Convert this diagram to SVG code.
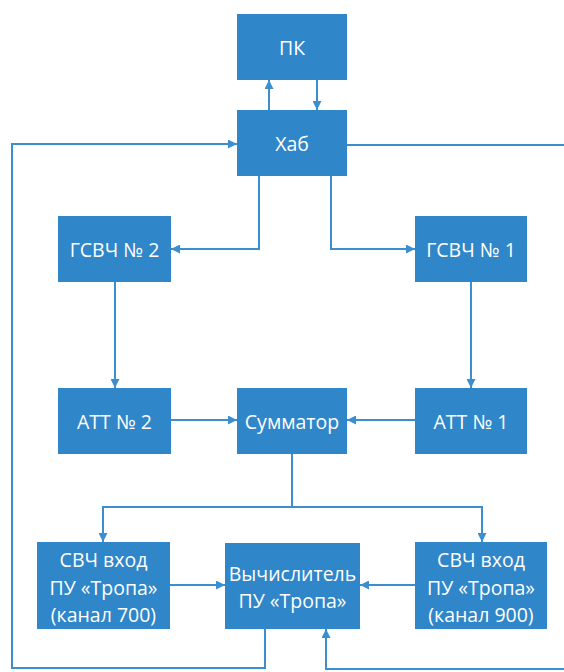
<svg xmlns="http://www.w3.org/2000/svg" width="564" height="672" viewBox="0 0 564 672">
<style>
.box{fill:#2F86C9;}
.lbl{fill:#ffffff;font-family:"Open Sans","Liberation Sans",sans-serif;font-size:19.5px;text-anchor:middle;dominant-baseline:central;}
.ln{fill:none;stroke:#3B8ED0;stroke-width:2;marker-end:url(#ah);}
.ln2{fill:none;stroke:#3B8ED0;stroke-width:2;}
</style>
<defs>
<marker id="ah" viewBox="0 0 10 10" refX="10" refY="5" markerWidth="9" markerHeight="9" markerUnits="userSpaceOnUse" orient="auto">
<path d="M0,0 L10,5 L0,10 z" fill="#3B8ED0"/>
</marker>
</defs>
<rect width="564" height="672" fill="#ffffff"/>
<g id="connectors">
<path class="ln" d="M269,110 V80"/>
<path class="ln" d="M317,80 V110"/>
<path class="ln" d="M259,176 V249 H171"/>
<path class="ln" d="M331,176 V249 H415"/>
<path class="ln" d="M115,282 V388"/>
<path class="ln" d="M471,282 V388"/>
<path class="ln" d="M171,420 H237"/>
<path class="ln" d="M415,420 H347"/>
<path class="ln2" d="M292,454 V507"/>
<path class="ln" d="M292,507 H103 V542"/>
<path class="ln" d="M292,507 H482 V542"/>
<path class="ln" d="M170,585 H225"/>
<path class="ln" d="M415,585 H360"/>
<path class="ln" d="M265,629 V668 H12 V144 H237"/>
<path class="ln" d="M347,145 H570 V669 H326 V629"/>
</g>
<g id="pk"><rect class="box" x="237" y="14" width="110" height="66"/><text class="lbl" x="292" y="47">ПК</text></g>
<g id="hub"><rect class="box" x="237" y="110" width="110" height="66"/><text class="lbl" x="292" y="143">Хаб</text></g>
<g id="gsvch2"><rect class="box" x="58" y="216" width="113" height="66"/><text class="lbl" x="114.5" y="249">ГСВЧ № 2</text></g>
<g id="gsvch1"><rect class="box" x="415" y="216" width="112" height="66"/><text class="lbl" x="471" y="249">ГСВЧ № 1</text></g>
<g id="att2"><rect class="box" x="58" y="388" width="113" height="66"/><text class="lbl" x="114.5" y="421">АТТ № 2</text></g>
<g id="summ"><rect class="box" x="237" y="388" width="110" height="66"/><text class="lbl" x="292" y="421">Сумматор</text></g>
<g id="att1"><rect class="box" x="415" y="388" width="112" height="66"/><text class="lbl" x="471" y="421">АТТ № 1</text></g>
<g id="svch700"><rect class="box" x="37" y="542" width="133" height="87"/>
<text class="lbl" x="103.5" y="559">СВЧ вход</text><text class="lbl" x="103.5" y="587">ПУ «Тропа»</text><text class="lbl" x="103.5" y="614">(канал 700)</text></g>
<g id="calc"><rect class="box" x="225" y="543" width="135" height="86"/>
<text class="lbl" x="292.5" y="573">Вычислитель</text><text class="lbl" x="292.5" y="600">ПУ «Тропа»</text></g>
<g id="svch900"><rect class="box" x="415" y="542" width="132" height="87"/>
<text class="lbl" x="481" y="559">СВЧ вход</text><text class="lbl" x="481" y="587">ПУ «Тропа»</text><text class="lbl" x="481" y="614">(канал 900)</text></g>
</svg>
